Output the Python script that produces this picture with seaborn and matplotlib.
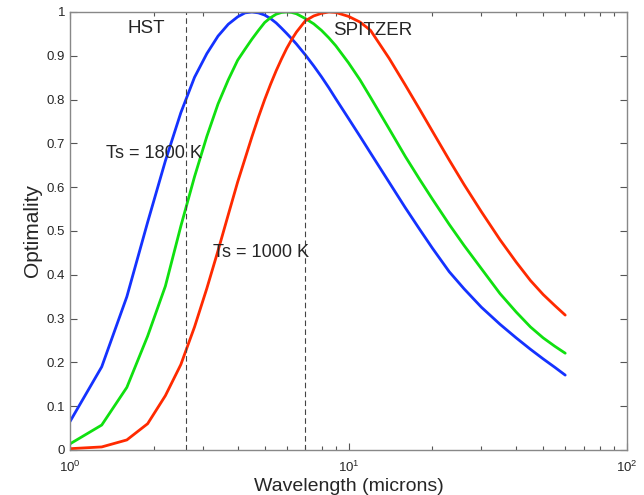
import matplotlib
matplotlib.use("Agg")
import matplotlib.pyplot as plt
import seaborn as sns
import pandas as pd
from matplotlib.ticker import LogLocator, FixedLocator, FixedFormatter, NullFormatter

wavelength = [1, 1.3, 1.6, 1.9, 2.2, 2.5, 2.8, 3.1, 3.4, 3.7, 4.0, 4.25, 4.5, 4.75, 5, 5.25,
              5.5, 5.75, 6, 6.25, 6.5, 7, 7.5, 8, 8.5, 9, 10, 11, 12, 14, 16, 18, 20, 23,
              26, 30, 35, 40, 45, 50, 55, 60]

opt_1800 = [0.065, 0.19, 0.35, 0.52, 0.66, 0.77, 0.851, 0.905, 0.945, 0.972, 0.989, 0.998,
            1.0, 0.998, 0.993, 0.985, 0.975, 0.963, 0.951, 0.939, 0.927, 0.902, 0.877,
            0.852, 0.827, 0.802, 0.757, 0.716, 0.678, 0.611, 0.553, 0.504, 0.461, 0.407,
            0.368, 0.326, 0.287, 0.256, 0.23, 0.208, 0.189, 0.171]

opt_1400 = [0.014, 0.057, 0.143, 0.26, 0.374, 0.511, 0.624, 0.716, 0.79, 0.845, 0.89, 0.915,
            0.938, 0.958, 0.976, 0.987, 0.995, 0.999, 1.0, 0.999, 0.996, 0.985, 0.973,
            0.958, 0.941, 0.923, 0.884, 0.845, 0.805, 0.733, 0.67, 0.618, 0.573, 0.515,
            0.467, 0.414, 0.357, 0.315, 0.281, 0.256, 0.237, 0.221]

opt_1000 = [0.003, 0.007, 0.023, 0.06, 0.124, 0.195, 0.281, 0.369, 0.455, 0.537, 0.612, 0.665,
            0.715, 0.76, 0.80, 0.835, 0.866, 0.893, 0.917, 0.937, 0.954, 0.98, 0.991,
            0.997, 1.0, 0.999, 0.99, 0.977, 0.958, 0.894, 0.833, 0.778, 0.728, 0.662,
            0.606, 0.544, 0.48, 0.429, 0.387, 0.355, 0.33, 0.308]

series_names = ["Ts = 1800 K", "Ts = 1400 K", "Ts = 1000 K"]
series_colors = ["#1432ff", "#10e010", "#ff2a00"]

hst_wavelength = 2.6
spitzer_wavelength = 7.0

y_ticks = [0, 0.1, 0.2, 0.3, 0.4, 0.5, 0.6, 0.7, 0.8, 0.9, 1]
y_tick_labels = ["0", "0.1", "0.2", "0.3", "0.4", "0.5", "0.6", "0.7", "0.8", "0.9", "1"]

df = pd.concat([
    pd.DataFrame({"Wavelength": wavelength, "Optimality": vals, "Series": name})
    for name, vals in zip(series_names, [opt_1800, opt_1400, opt_1000])
])

sns.set_style("white")
plt.rcParams["font.family"] = ["Liberation Sans", "DejaVu Sans"]

fig = plt.figure(figsize=(6.44, 4.95), dpi=100)
ax = fig.add_axes([70 / 644, 1 - 450 / 495, 557 / 644, 438 / 495])

sns.lineplot(data=df, x="Wavelength", y="Optimality", hue="Series",
             palette=dict(zip(series_names, series_colors)), sort=False,
             linewidth=2.0, legend=False, ax=ax)

ax.set_xscale("log")
ax.set_xlim(1, 100)
ax.set_ylim(0, 1)

for xv in [hst_wavelength, spitzer_wavelength]:
    ax.axvline(xv, color="#444444", linestyle=(0, (5, 3)), linewidth=0.8)

ax.text(1.61, 0.963, "HST", fontsize=13.5, ha="left", va="center")
ax.text(8.8, 0.958, "SPITZER", fontsize=13.5, ha="left", va="center")
ax.text(1.35, 0.678, "Ts = 1800 K", fontsize=13.1, ha="left", va="center")
ax.text(3.27, 0.452, "Ts = 1000 K", fontsize=13.1, ha="left", va="center")

ax.yaxis.set_major_locator(FixedLocator(y_ticks))
ax.yaxis.set_major_formatter(FixedFormatter(y_tick_labels))
ax.xaxis.set_major_locator(LogLocator(base=10))
ax.xaxis.set_minor_locator(LogLocator(base=10, subs=range(2, 10)))
ax.xaxis.set_minor_formatter(NullFormatter())

ax.tick_params(which="both", direction="in", top=True, right=True,
               bottom=True, left=True, color="#555555")
ax.tick_params(which="major", length=5, labelsize=9.5, width=0.8)
ax.tick_params(axis="x", which="major", pad=7)
ax.tick_params(which="minor", length=3, width=0.8)
for s in ax.spines.values():
    s.set_color("#888888")
    s.set_linewidth(1.0)

ax.set_xlabel("Wavelength (microns)", fontsize=14, labelpad=2)
ax.set_ylabel("Optimality", fontsize=15, labelpad=3)

fig.savefig("out.png", dpi=100)
